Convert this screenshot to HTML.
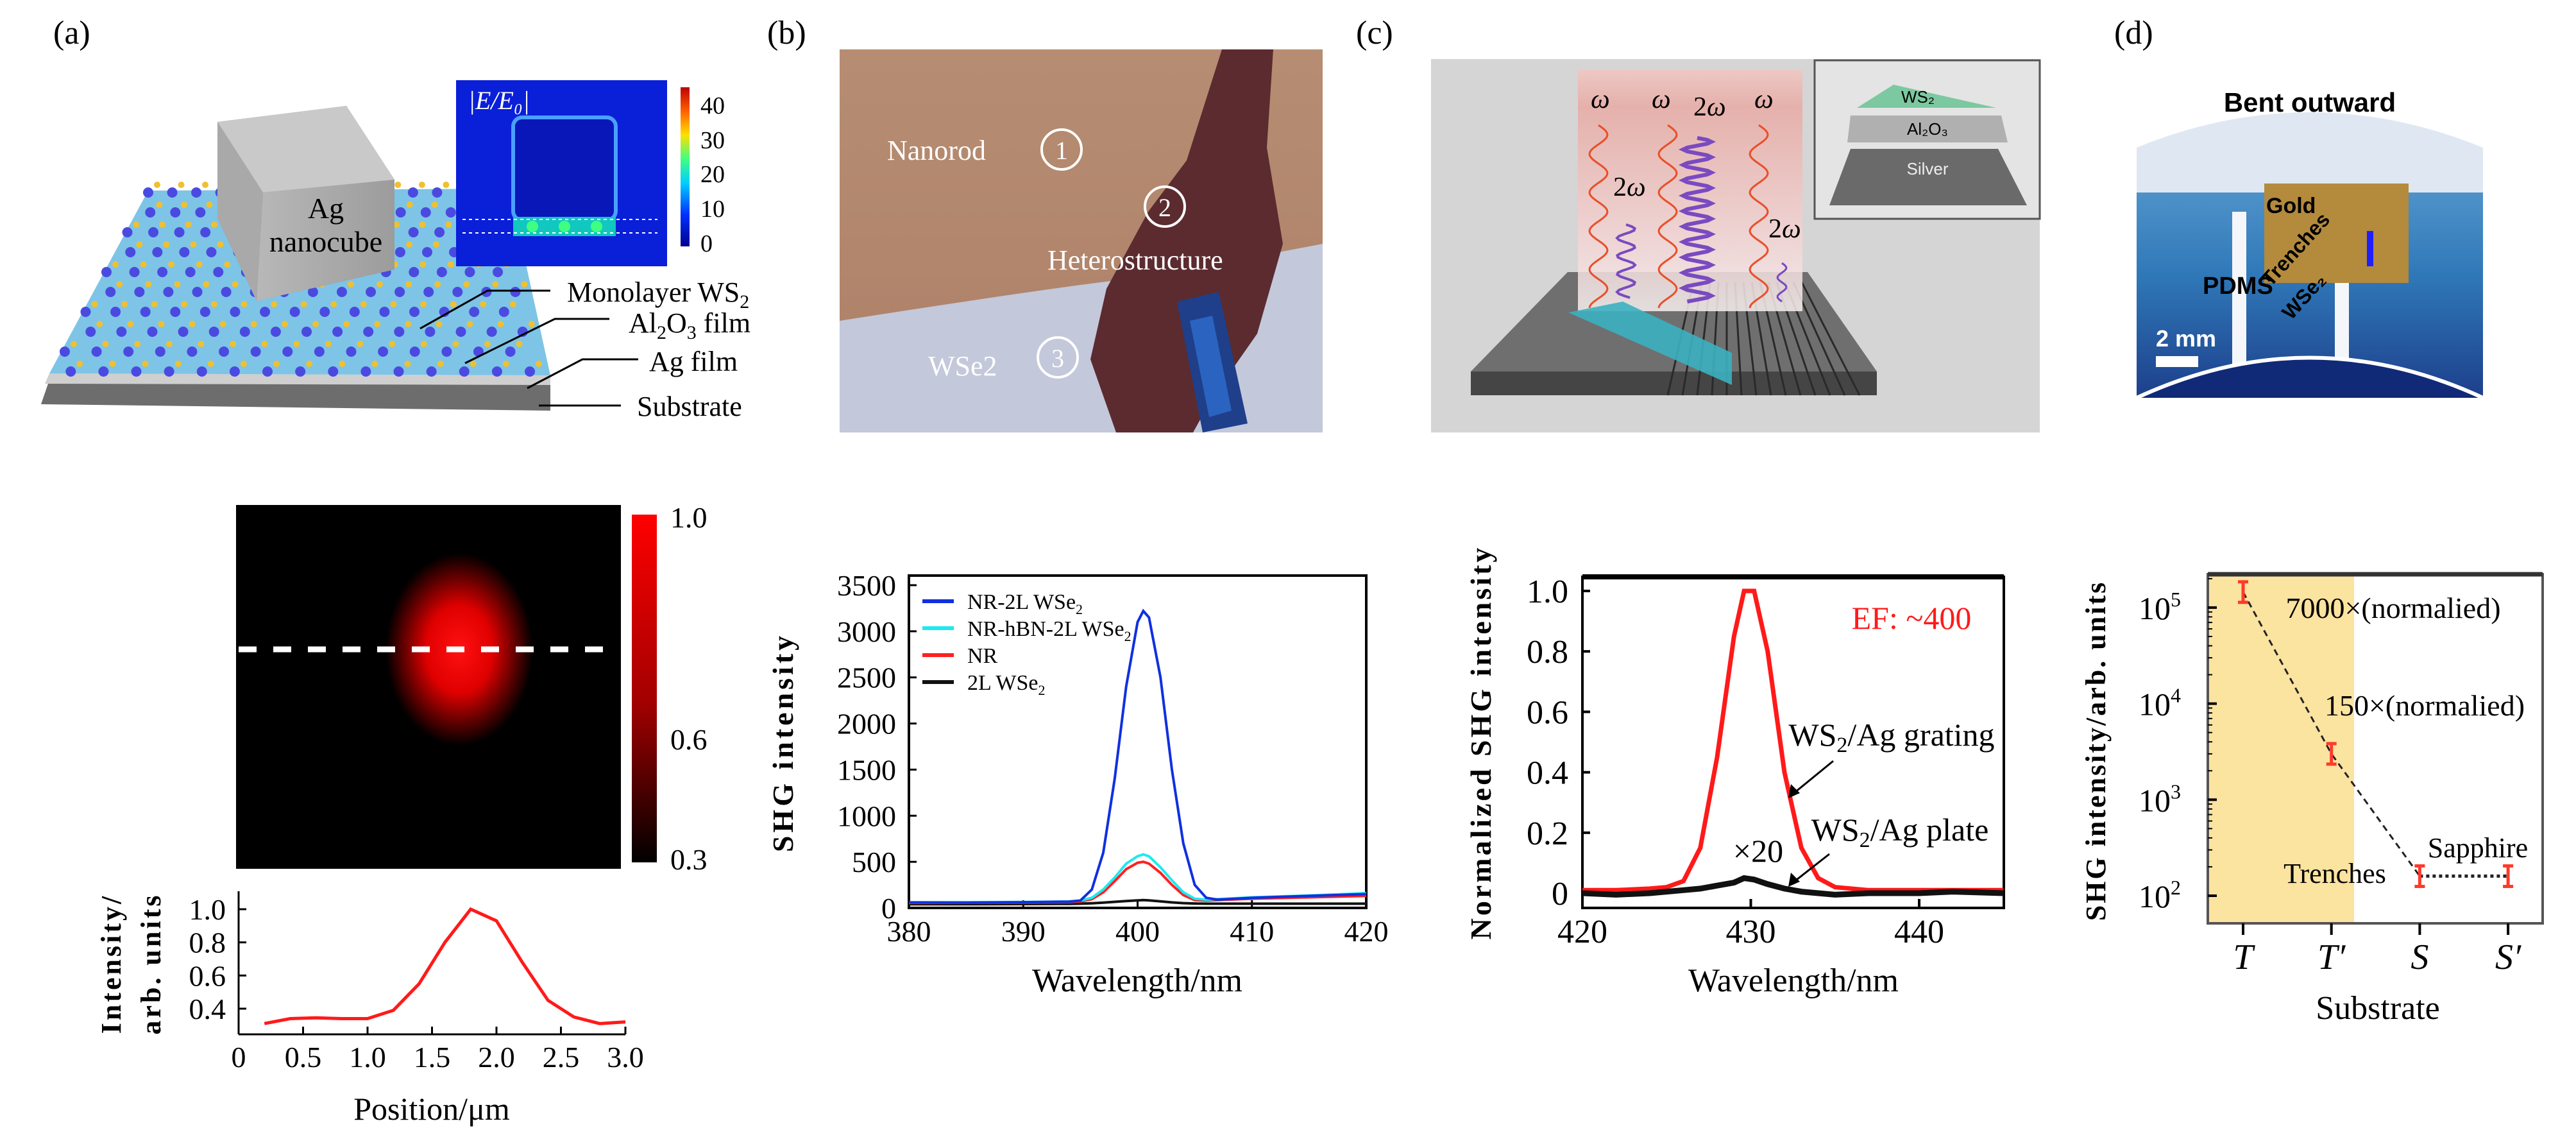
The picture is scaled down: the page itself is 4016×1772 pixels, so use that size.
<!DOCTYPE html>
<html><head><meta charset="utf-8"><style>
html,body{margin:0;padding:0;background:#fff}
svg{display:block}
text{font-family:"Liberation Serif",serif;fill:#000}
.sans{font-family:"Liberation Sans",sans-serif}
</style></head><body>
<svg id="fig" width="4016" height="1772" viewBox="0 0 4016 1772" xmlns="http://www.w3.org/2000/svg">
<defs>
<radialGradient id="spot" cx="0.5" cy="0.5" r="0.5"><stop offset="0" stop-color="#ff1010"/><stop offset="0.45" stop-color="#e00000"/><stop offset="0.8" stop-color="#500000"/><stop offset="1" stop-color="#000"/></radialGradient>
<linearGradient id="cbRed" x1="0" y1="0" x2="0" y2="1"><stop offset="0" stop-color="#ff0000"/><stop offset="0.55" stop-color="#a00000"/><stop offset="1" stop-color="#000"/></linearGradient>
<linearGradient id="jet" x1="0" y1="1" x2="0" y2="0"><stop offset="0" stop-color="#00008f"/><stop offset="0.2" stop-color="#0030ff"/><stop offset="0.4" stop-color="#00d0ff"/><stop offset="0.55" stop-color="#40ff80"/><stop offset="0.7" stop-color="#ffe000"/><stop offset="0.85" stop-color="#ff6000"/><stop offset="1" stop-color="#c00000"/></linearGradient>
<linearGradient id="beam" x1="0" y1="0" x2="0" y2="1"><stop offset="0" stop-color="#f2c6c2"/><stop offset="0.15" stop-color="#e8aaa4"/><stop offset="0.8" stop-color="#f4dcdc"/><stop offset="1" stop-color="#f8f0f0"/></linearGradient>
<linearGradient id="cube" x1="0" y1="0" x2="1" y2="0"><stop offset="0" stop-color="#b8b8b8"/><stop offset="1" stop-color="#9c9c9c"/></linearGradient>
<linearGradient id="dblue" x1="0" y1="0" x2="0" y2="1"><stop offset="0" stop-color="#5d9ed1"/><stop offset="0.5" stop-color="#2f78b8"/><stop offset="1" stop-color="#1d3f8c"/></linearGradient>
<linearGradient id="photoB" x1="0" y1="0" x2="0" y2="1"><stop offset="0" stop-color="#b68d72"/><stop offset="1" stop-color="#ad8068"/></linearGradient>
</defs>

<text x="83" y="68" font-size="52">(a)</text>
<text x="1196" y="68" font-size="52">(b)</text>
<text x="2114" y="68" font-size="52">(c)</text>
<text x="3296" y="68" font-size="52">(d)</text>

<g>
  <polygon points="77,592 858,592 858,640 64,630" fill="#6d6d6d"/>
  <polygon points="77,582 858,585 858,600 70,598" fill="#cfcfcf"/>
  <polygon points="231,297 794,294 858,585 77,582" fill="#7ec4e6"/>
  <g id="atoms"></g>
  <polygon points="339,190 540,165 615,280 615,420 400,469 339,340" fill="#8d8d8d"/>
  <polygon points="339,190 540,165 615,280 410,300" fill="#c9c9c9"/>
  <polygon points="410,300 615,280 615,420 400,469" fill="url(#cube)"/>
  <polygon points="339,190 410,300 400,469 339,340" fill="#a9a9a9"/>
  <text x="508" y="340" font-size="46" text-anchor="middle">Ag</text>
  <text x="508" y="392" font-size="46" text-anchor="middle">nanocube</text>
  <g>
    <rect x="711" y="125" width="329" height="290" fill="#0a1fd8"/>
    <rect x="800" y="183" width="160" height="160" rx="14" fill="#0916b8" stroke="#4aa0ff" stroke-width="6"/>
    <rect x="800" y="338" width="160" height="30" fill="#10c8c0"/>
    <circle cx="830" cy="353" r="9" fill="#40ff80"/><circle cx="880" cy="353" r="9" fill="#40ff80"/><circle cx="930" cy="353" r="9" fill="#40ff80"/>
    <line x1="721" y1="342" x2="1025" y2="342" stroke="#fff" stroke-width="2" stroke-dasharray="5,5"/>
    <line x1="721" y1="363" x2="1025" y2="363" stroke="#fff" stroke-width="2" stroke-dasharray="5,5"/>
    <text x="730" y="170" font-size="40" font-style="italic" style="fill:#fff">|E/E₀|</text>
    <rect x="1061" y="136" width="14" height="248" fill="url(#jet)"/>
    <text x="1092" y="177" font-size="38">40</text>
    <text x="1092" y="231" font-size="38">30</text>
    <text x="1092" y="284" font-size="38">20</text>
    <text x="1092" y="338" font-size="38">10</text>
    <text x="1092" y="392" font-size="38">0</text>
  </g>
  <g stroke="#000" stroke-width="3" fill="none">
    <polyline points="655,512 760,453 858,453"/>
    <polyline points="725,566 865,497 950,497"/>
    <polyline points="822,605 908,560 995,560"/>
    <polyline points="840,632 968,632"/>
  </g>
  <text x="884" y="470" font-size="44">Monolayer WS<tspan font-size="30" dy="10">2</tspan></text>
  <text x="980" y="518" font-size="44">Al<tspan font-size="30" dy="10">2</tspan><tspan dy="-10">O</tspan><tspan font-size="30" dy="10">3</tspan><tspan dy="-10"> film</tspan></text>
  <text x="1012" y="578" font-size="44">Ag film</text>
  <text x="993" y="648" font-size="44">Substrate</text>
</g>

<g>
  <rect x="1309" y="77" width="753" height="597" fill="url(#photoB)"/>
  <path d="M1309,500 C1500,470 1700,440 1800,430 L2062,380 L2062,674 L1309,674 Z" fill="#c3c8da"/>
  <polygon points="1905,77 1985,77 1975,230 2000,380 1960,520 1890,620 1860,674 1740,674 1700,560 1725,450 1790,330 1850,250" fill="#5b2b30"/>
  <polygon points="1835,470 1900,455 1945,660 1875,674" fill="#1f3f8a"/>
  <polygon points="1855,500 1890,492 1920,640 1885,650" fill="#2a64c0"/>
  <g fill="none" stroke="#fff" stroke-width="4">
    <circle cx="1655" cy="233" r="31"/><circle cx="1816" cy="322" r="31"/><circle cx="1649" cy="557" r="31"/>
  </g>
  <text x="1383" y="249" font-size="44" style="fill:#fff">Nanorod</text>
  <text x="1655" y="248" font-size="40" text-anchor="middle" style="fill:#fff">1</text>
  <text x="1816" y="337" font-size="40" text-anchor="middle" style="fill:#fff">2</text>
  <text x="1633" y="420" font-size="44" style="fill:#fff">Heterostructure</text>
  <text x="1447" y="585" font-size="44" style="fill:#fff">WSe2</text>
  <text x="1649" y="572" font-size="40" text-anchor="middle" style="fill:#fff">3</text>
</g>

<g>
  <rect x="2231" y="92" width="949" height="582" fill="#d5d5d5"/>
  <polygon points="2444,424 2818,424 2926,579 2293,579" fill="#6f6f6f"/>
  <rect x="2293" y="579" width="633" height="37" fill="#454545"/>
  <g id="grooves" stroke="#2a2a2a" stroke-width="3"></g>
  <rect x="2460" y="109" width="350" height="376" fill="url(#beam)" opacity="0.85"/>
  <polygon points="2445,487 2530,470 2700,550 2700,600" fill="#3bb0c0" opacity="0.9"/>
  <g id="waves" fill="none" stroke-width="3"></g>
  <text x="2480" y="168" font-size="42" font-style="italic">ω</text>
  <text x="2575" y="168" font-size="42" font-style="italic">ω</text>
  <text x="2640" y="180" font-size="42">2<tspan font-style="italic">ω</tspan></text>
  <text x="2735" y="168" font-size="42" font-style="italic">ω</text>
  <text x="2515" y="305" font-size="42">2<tspan font-style="italic">ω</tspan></text>
  <text x="2757" y="370" font-size="42">2<tspan font-style="italic">ω</tspan></text>
  <rect x="2829" y="94" width="351" height="247" fill="#e4e4e4" stroke="#555" stroke-width="3"/>
  <polygon points="2895,168 2952,132 3112,168" fill="#7cc8a0"/>
  <polygon points="2885,180 3120,180 3130,222 2880,222" fill="#b0b0b0"/>
  <polygon points="2885,232 3115,232 3160,320 2852,320" fill="#6a6a6a"/>
  <text x="2990" y="160" font-size="26" text-anchor="middle" class="sans">WS₂</text>
  <text x="3005" y="210" font-size="26" text-anchor="middle" class="sans">Al₂O₃</text>
  <text x="3005" y="272" font-size="26" text-anchor="middle" class="sans" style="fill:#eee">Silver</text>
</g>

<g>
  <text x="3601" y="174" font-size="42" font-weight="bold" text-anchor="middle" class="sans">Bent outward</text>
  <rect x="3331" y="240" width="540" height="380" fill="url(#dblue)"/>
  <path d="M3331,230 Q3601,120 3871,230 L3871,300 L3331,300 Z" fill="#dfe8f2"/>
  <rect x="3480" y="330" width="22" height="250" fill="#f4f6fa"/>
  <rect x="3640" y="440" width="22" height="140" fill="#f4f6fa"/>
  <path d="M3331,620 Q3601,500 3871,620 Z" fill="#102a78"/>
  <path d="M3331,620 Q3601,495 3871,620" fill="none" stroke="#fff" stroke-width="6"/>
  <rect x="3530" y="286" width="225" height="155" fill="#b48a3c"/>
  <rect x="3690" y="360" width="10" height="55" fill="#2020ff"/>
  <text x="3533" y="332" font-size="34" font-weight="bold" class="sans">Gold</text>
  <text x="3434" y="458" font-size="38" font-weight="bold" class="sans">PDMS</text>
  <text x="3540" y="448" font-size="32" font-weight="bold" class="sans" transform="rotate(-48 3540 448)">Trenches</text>
  <text x="3572" y="500" font-size="32" font-weight="bold" class="sans" transform="rotate(-48 3572 500)">WSe₂</text>
  <text x="3361" y="540" font-size="36" font-weight="bold" class="sans" style="fill:#fff">2 mm</text>
  <rect x="3361" y="555" width="66" height="17" fill="#fff"/>
</g>

<g>
  <rect x="368" y="787" width="600" height="567" fill="#000"/>
  <ellipse cx="716" cy="1012" rx="115" ry="150" fill="url(#spot)"/>
  <line x1="372" y1="1012" x2="960" y2="1012" stroke="#fff" stroke-width="9" stroke-dasharray="28,26"/>
  <rect x="985" y="802" width="39" height="542" fill="url(#cbRed)"/>
  <text x="1045" y="822" font-size="46">1.0</text>
  <text x="1045" y="1168" font-size="46">0.6</text>
  <text x="1045" y="1355" font-size="46">0.3</text>
</g>

<g id="chartA"></g>
<g id="chartB"></g>
<g id="chartC"></g>
<g id="chartD"></g>
</svg>
<script>
const profilePos = [0.2,0.4,0.6,0.8,1.0,1.2,1.4,1.6,1.8,2.0,2.2,2.4,2.6,2.8,3.0];
const profileVal = [0.31,0.34,0.345,0.34,0.34,0.39,0.55,0.80,1.0,0.93,0.68,0.45,0.35,0.31,0.32];
const profileXTicks = ['0','0.5','1.0','1.5','2.0','2.5','3.0'];
const profileYTicks = ['0.4','0.6','0.8','1.0'];

const specWl = [380,385,390,394,395,396,397,398,399,400,400.5,401,402,403,404,405,406,407,410,415,420];
const specBlue = [60,58,62,68,80,200,600,1400,2400,3100,3220,3150,2500,1500,700,250,110,90,110,130,150];
const specCyan = [60,62,65,70,80,110,200,330,480,560,580,560,440,300,170,100,90,95,115,135,160];
const specRed  = [55,56,58,62,70,95,170,290,420,490,500,480,380,250,140,85,80,85,100,115,130];
const specBlack= [40,40,42,44,46,50,58,66,75,82,85,82,72,60,52,48,46,46,46,46,46];
const specYTicks = [0,500,1000,1500,2000,2500,3000,3500];
const specXTicks = [380,390,400,410,420];
const specLegend = ['NR-2L WSe','NR-hBN-2L WSe','NR','2L WSe'];

const normWl = [420,422,424,425,426,427,428,429,429.6,430.2,431,432,433,434,435,437,440,442,445];
const normGrating = [0.01,0.01,0.015,0.02,0.04,0.15,0.45,0.85,1.0,1.0,0.8,0.4,0.15,0.05,0.02,0.01,0.01,0.01,0.01];
const normPlate = [0.0,-0.005,0.0,0.005,0.01,0.015,0.025,0.035,0.05,0.045,0.03,0.015,0.005,0.0,-0.005,0.0,0.0,0.005,0.0];
const normYTicks = [0,0.2,0.4,0.6,0.8,1.0];
const normXTicks = [420,430,440];

const subCats = ['T','T′','S','S′'];
const subVals = [145000,3000,160,160];
const subYExp = [2,3,4,5];

const NS='http://www.w3.org/2000/svg';
function mk(parent,tag,attrs,txt){const e=document.createElementNS(NS,tag);for(const k in attrs)e.setAttribute(k,attrs[k]);if(txt!==undefined)e.textContent=txt;parent.appendChild(e);return e;}
function pts(xs,ys,fx,fy){return xs.map((x,i)=>fx(x).toFixed(1)+','+fy(ys[i]).toFixed(1)).join(' ');}

(function(){
  const g=document.getElementById('atoms');
  for(let r=0;r<10;r++){for(let c=0;c<15;c++){
    const t=r/9, y=300+r*31, xl=231-(231-77)*t*0.95, xr=794+(858-794)*t*0.9;
    const x=xl+(xr-xl)*(c+0.5*(r%2))/15;
    const a=mk(g,'circle',{cx:x,cy:y,r:8,fill:'#4a4ae0'});
    
    
    const b=mk(g,'circle',{cx:x+14,cy:y-12,r:5,fill:'#f0c030'});
    
    
  }}
  const gr=document.getElementById('grooves');
  for(let i=0;i<14;i++){
    const l=mk(gr,'line',{x1:2640+i*13,y1:440,x2:2600+i*23,y2:616});
    
    
  }
  const wv=document.getElementById('waves');
  function wave(x0,y0,y1,amp,per,col,w){let d='';for(let y=y0;y<=y1;y+=3){const x=x0+amp*Math.sin((y-y0)/per*2*Math.PI);d+=(d?'L':'M')+x.toFixed(1)+','+y;}
    const p=mk(wv,'path',{d:d,stroke:col,'stroke-width':w});
    
    }
  wave(2492,195,480,14,60,'#e8502a',3);wave(2600,195,480,14,60,'#e8502a',3);wave(2742,195,480,14,60,'#e8502a',3);
  wave(2535,350,465,14,28,'#7a4ac0',4);wave(2646,215,470,22,24,'#7a4ac0',6);wave(2778,410,470,7,30,'#7a4ac0',3);
})();

(function(){
  const g=document.getElementById('chartA');
  const X0=372,X1=975,Y0=1389,Y1=1612;
  const fx=p=>X0+p/3.0*603, fy=v=>1417+(1.0-v)*258.3;
  mk(g,'line',{x1:X0,y1:Y0,x2:X0,y2:Y1,stroke:'#000','stroke-width':3});
  mk(g,'line',{x1:X0,y1:Y1,x2:X1,y2:Y1,stroke:'#000','stroke-width':3});
  profileXTicks.forEach((t,i)=>{const x=fx(parseFloat(t));
    mk(g,'line',{x1:x,y1:Y1,x2:x,y2:Y1-12,stroke:'#000','stroke-width':3});
    const tx=mk(g,'text',{x:x,y:1663,'font-size':46,'text-anchor':'middle'},t);
    
    });
  profileYTicks.forEach(t=>{const y=fy(parseFloat(t));
    mk(g,'line',{x1:X0,y1:y,x2:X0+12,y2:y,stroke:'#000','stroke-width':3});
    const tx=mk(g,'text',{x:352,y:y+16,'font-size':46,'text-anchor':'end'},t);
    
    });
  const ln=mk(g,'polyline',{points:pts(profilePos,profileVal,fx,fy),fill:'none',stroke:'#ff1a1a','stroke-width':5});
  
  
  const xt=mk(g,'text',{x:673,y:1745,'font-size':50,'text-anchor':'middle'},'Position/μm');
  
  
  const yt=mk(g,'text',{x:0,y:0,'font-size':44,'font-weight':'bold','text-anchor':'middle','letter-spacing':'4',transform:'translate(188,1502) rotate(-90)'},'Intensity/');
  
  
  const yt2=mk(g,'text',{x:0,y:0,'font-size':44,'font-weight':'bold','text-anchor':'middle','letter-spacing':'4',transform:'translate(250,1502) rotate(-90)'},'arb. units');
  
  
})();

(function(){
  const g=document.getElementById('chartB');
  const X0=1417,X1=2130,Y0=897,Y1=1415;
  const fx=w=>X0+(w-380)/40*713, fy=v=>Y1-v/3500*503;
  mk(g,'rect',{x:X0,y:Y0,width:X1-X0,height:Y1-Y0,fill:'none',stroke:'#000','stroke-width':4});
  specYTicks.forEach(t=>{const y=fy(t);
    mk(g,'line',{x1:X0,y1:y,x2:X0+12,y2:y,stroke:'#000','stroke-width':3});
    const tx=mk(g,'text',{x:1397,y:y+16,'font-size':46,'text-anchor':'end'},String(t));
    
    });
  specXTicks.forEach(t=>{const x=fx(t);
    mk(g,'line',{x1:x,y1:Y1,x2:x,y2:Y1-12,stroke:'#000','stroke-width':3});
    const tx=mk(g,'text',{x:x,y:1467,'font-size':46,'text-anchor':'middle'},String(t));
    
    });
  const series=[[specBlack,'#111'],[specRed,'#ff2020'],[specCyan,'#20e8f0'],[specBlue,'#1030e0']];
  series.forEach(s=>{const l=mk(g,'polyline',{points:pts(specWl,s[0],fx,fy),fill:'none',stroke:s[1],'stroke-width':4});
    
    });
  const cols=['#1030e0','#20e8f0','#ff2020','#111'];
  specLegend.forEach((t,i)=>{const y=937+i*42;
    const l=mk(g,'line',{x1:1438,y1:y,x2:1487,y2:y,stroke:cols[i],'stroke-width':6});
    
    
    const tx=mk(g,'text',{x:1508,y:y+12,'font-size':34},t);
    if(i!==2){mk(tx,'tspan',{'font-size':22,dy:8},'2');}
    
    });
  const xt=mk(g,'text',{x:1773,y:1545,'font-size':52,'text-anchor':'middle'},'Wavelength/nm');
  
  
  const yt=mk(g,'text',{x:0,y:0,'font-size':46,'font-weight':'bold','text-anchor':'middle','letter-spacing':'5',transform:'translate(1236,1157) rotate(-90)'},'SHG intensity');
  
  
})();

(function(){
  const g=document.getElementById('chartC');
  const X0=2467,X1=3124,Y0=899,Y1=1415;
  const fx=w=>X0+(w-420)*26.25, fy=v=>1392-v*471;
  mk(g,'rect',{x:X0,y:Y0,width:X1-X0,height:Y1-Y0,fill:'none',stroke:'#000','stroke-width':4});
  mk(g,'line',{x1:X0,y1:Y0,x2:X1,y2:Y0,stroke:'#000','stroke-width':8});
  normYTicks.forEach(t=>{const y=fy(t);
    mk(g,'line',{x1:X0,y1:y,x2:X0+12,y2:y,stroke:'#000','stroke-width':4});
    const tx=mk(g,'text',{x:2445,y:y+18,'font-size':52,'text-anchor':'end'},t===0?'0':t.toFixed(1));
    
    });
  normXTicks.forEach(t=>{const x=fx(t);
    mk(g,'line',{x1:x,y1:Y1,x2:x,y2:Y1-14,stroke:'#000','stroke-width':4});
    const tx=mk(g,'text',{x:x,y:1469,'font-size':52,'text-anchor':'middle'},String(t));
    
    });
  const r=mk(g,'polyline',{points:pts(normWl,normGrating,fx,fy),fill:'none',stroke:'#ff1a1a','stroke-width':7});
  
  
  const b=mk(g,'polyline',{points:pts(normWl,normPlate,fx,fy),fill:'none',stroke:'#111','stroke-width':9});
  
  
  mk(g,'text',{x:2980,y:980,'font-size':50,'text-anchor':'middle',style:'fill:#ff1a1a'},'EF: ~400');
  const a1=mk(g,'text',{x:2949,y:1162,'font-size':50,'text-anchor':'middle'},'WS');
  mk(a1,'tspan',{'font-size':34,dy:10},'2');mk(a1,'tspan',{dy:-10},'/Ag grating');
  const a2=mk(g,'text',{x:2962,y:1310,'font-size':50,'text-anchor':'middle'},'WS');
  mk(a2,'tspan',{'font-size':34,dy:10},'2');mk(a2,'tspan',{dy:-10},'/Ag plate');
  mk(g,'text',{x:2741,y:1343,'font-size':50,'text-anchor':'middle'},'×20');
  mk(g,'line',{x1:2858,y1:1186,x2:2792,y2:1240,stroke:'#000','stroke-width':3});
  mk(g,'polygon',{points:'2788,1244 2792,1222 2806,1236',fill:'#000'});
  mk(g,'line',{x1:2852,y1:1331,x2:2792,y2:1378,stroke:'#000','stroke-width':3});
  mk(g,'polygon',{points:'2788,1382 2792,1360 2806,1374',fill:'#000'});
  const xt=mk(g,'text',{x:2796,y:1545,'font-size':52,'text-anchor':'middle'},'Wavelength/nm');
  
  
  const yt=mk(g,'text',{x:0,y:0,'font-size':46,'font-weight':'bold','text-anchor':'middle','letter-spacing':'4',transform:'translate(2324,1157) rotate(-90)'},'Normalized SHG intensity');
  
  
})();

(function(){
  const g=document.getElementById('chartD');
  const X0=3442,X1=3964,Y0=895,Y1=1439;
  const fx=i=>3497+i*137.7, fy=v=>1396-(Math.log10(v)-2)*149.7;
  mk(g,'rect',{x:X0,y:Y0,width:228,height:Y1-Y0,fill:'#fbe3a0'});
  mk(g,'rect',{x:X0,y:Y0,width:X1-X0,height:Y1-Y0,fill:'none',stroke:'#555','stroke-width':4});
  mk(g,'line',{x1:X0,y1:Y0,x2:X1,y2:Y0,stroke:'#333','stroke-width':7});
  subYExp.forEach(e=>{const y=fy(Math.pow(10,e));
    mk(g,'line',{x1:X0,y1:y,x2:X0+14,y2:y,stroke:'#000','stroke-width':4});
    const tx=mk(g,'text',{x:3400,y:y+18,'font-size':50,'text-anchor':'end'},'10');
    mk(tx,'tspan',{'font-size':32,dy:-20},String(e));
    
    });
  for(let e=2;e<=5;e++){for(let m=2;m<=9;m++){const v=m*Math.pow(10,e);if(fy(v)<Y0)continue;
    mk(g,'line',{x1:X0,y1:fy(v),x2:X0+7,y2:fy(v),stroke:'#000','stroke-width':2});}}
  subCats.forEach((c,i)=>{const x=fx(i);
    mk(g,'line',{x1:x,y1:Y1,x2:x,y2:Y1+18,stroke:'#000','stroke-width':4});
    const tx=mk(g,'text',{x:x,y:1510,'font-size':56,'font-style':'italic','text-anchor':'middle'},c);
    
    });
  const idx=subVals.map((v,i)=>i);
  const d1=mk(g,'polyline',{points:pts(idx.slice(0,3),subVals.slice(0,3),fx,fy),fill:'none',stroke:'#222','stroke-width':3,'stroke-dasharray':'10,7'});
  
  
  const d2=mk(g,'polyline',{points:pts(idx.slice(2),subVals.slice(2),fx,fy),fill:'none',stroke:'#222','stroke-width':5,'stroke-dasharray':'5,5'});
  
  
  subVals.forEach((v,i)=>{const x=fx(i),y=fy(v);
    const m=mk(g,'path',{d:`M${x-8},${y-16}H${x+8}M${x},${y-16}V${y+16}M${x-8},${y+16}H${x+8}`,stroke:'#ff3a2a','stroke-width':5});
    
    });
  mk(g,'text',{x:3731,y:963,'font-size':46,'text-anchor':'middle'},'7000×(normalied)');
  mk(g,'text',{x:3780,y:1115,'font-size':46,'text-anchor':'middle'},'150×(normalied)');
  mk(g,'text',{x:3863,y:1336,'font-size':44,'text-anchor':'middle'},'Sapphire');
  mk(g,'text',{x:3640,y:1376,'font-size':44,'text-anchor':'middle'},'Trenches');
  const xt=mk(g,'text',{x:3707,y:1588,'font-size':52,'text-anchor':'middle'},'Substrate');
  
  
  const yt=mk(g,'text',{x:0,y:0,'font-size':44,'font-weight':'bold','text-anchor':'middle','letter-spacing':'3',transform:'translate(3282,1170) rotate(-90)'},'SHG intensity/arb. units');
  
  
})();
</script>
</body></html>
